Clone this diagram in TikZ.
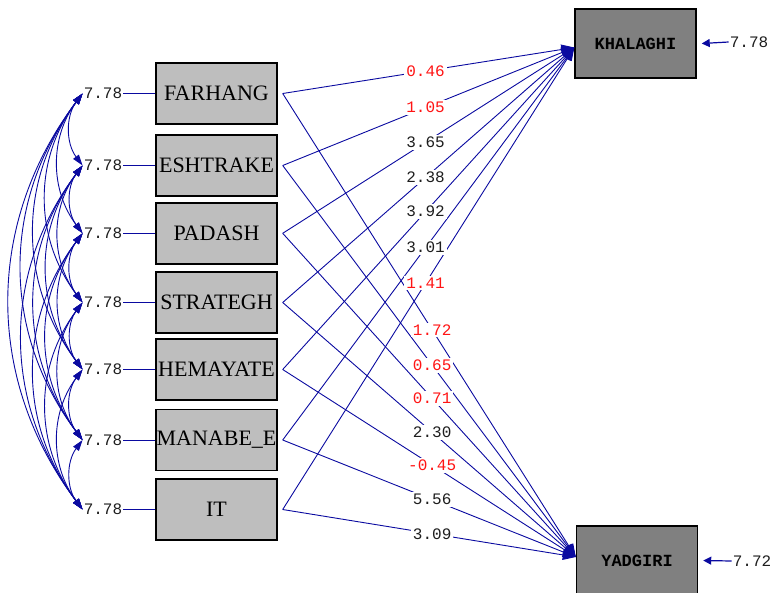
\documentclass[tikz,border=0pt]{standalone}
\usepackage{fontspec}
\setmainfont{Liberation Serif}
\newfontfamily\monof{Liberation Mono}
\usetikzlibrary{arrows.meta}
\definecolor{lineblue}{RGB}{10,10,160}
\definecolor{labred}{RGB}{255,20,20}
\definecolor{labblack}{RGB}{30,30,30}
\definecolor{boxlight}{RGB}{190,190,190}
\definecolor{boxdark}{RGB}{128,128,128}
\begin{document}
\begin{tikzpicture}[x=1pt,y=-1pt,
  varbox/.style={draw=black, line width=1.4pt, fill=boxlight, minimum width=121pt, minimum height=61pt, inner sep=0pt, font=\fontsize{22}{22}\selectfont},
  endbox/.style={draw=black, line width=1.4pt, fill=boxdark, minimum width=121pt, minimum height=69pt, inner sep=0pt, font=\monof\bfseries\fontsize{17}{17}\selectfont},
  errlab/.style={font=\monof\fontsize{16}{16}\selectfont, text=labblack, inner sep=1pt},
  coef/.style={font=\monof\fontsize{16}{16}\selectfont, fill=white, inner sep=2pt},
  conn/.style={draw=lineblue, line width=0.9pt},
  regarrow/.style={conn, -{Triangle[length=13pt,width=10pt]}},
  cov/.style={conn, {Triangle[length=11pt,width=7pt]}-{Triangle[length=11pt,width=7pt]}, bend right=37}
]
\useasboundingbox (0,0) rectangle (770,592);

% exogenous boxes
\foreach \n/\y [count=\i] in {FARHANG/93.5, ESHTRAKE/165.5, PADASH/233.3, STRATEGH/302.5, HEMAYATE/369.5, MANABE\_E/440, IT/509.5}{
  \node[varbox] (b\i) at (216.5,\y) {\makebox[0pt]{\n}};
  \node[errlab] (e\i) at (103,\y) {7.78};
}
\foreach \i in {1,...,7}{
  \draw[conn] (e\i.east) -- (b\i.west);
  \coordinate (s\i) at ([xshift=5pt]b\i.east);
}

% endogenous boxes
\node[endbox] (K) at (635.5,43.5) {KHALAGHI};
\node[endbox] (Y) at (637,560.5) {YADGIRI};
\node[errlab] (eK) at (749,42) {7.78};
\node[errlab] (eY) at (752,561) {7.72};
\draw[conn, line width=1.2pt, -{Triangle[length=8pt,width=8pt]}] (eK.west) -- ([xshift=5pt]K.east);
\draw[conn, line width=1.2pt, -{Triangle[length=8pt,width=8pt]}] (eY.west) -- ([xshift=5pt]Y.east);

\coordinate (kin) at ([yshift=-4pt]K.west);
\coordinate (yin) at ([yshift=3.5pt]Y.west);

% covariances
\foreach \i in {1,...,6}{
  \pgfmathtruncatemacro\k{\i+1}
  \foreach \j in {\k,...,7}{
    \draw[cov] (e\i.west) to (e\j.west);
  }
}

% regression paths
\foreach \i in {1,...,7}{
  \draw[regarrow] (s\i) -- coordinate[pos=0.49] (lk\i) (kin);
  \draw[regarrow] (s\i) -- coordinate[pos=0.51] (ly\i) (yin);
}

% coefficients
\foreach \t/\c [count=\i] in {0.46/labred, 1.05/labred, 3.65/labblack, 2.38/labblack, 3.92/labblack, 3.01/labblack, 1.41/labred}{
  \node[coef, text=\c] at (lk\i) {\t};
}
\foreach \t/\c [count=\i] in {1.72/labred, 0.65/labred, 0.71/labred, 2.30/labblack, -0.45/labred, 5.56/labblack, 3.09/labblack}{
  \node[coef, text=\c] at (ly\i) {\t};
}
\end{tikzpicture}
\end{document}
